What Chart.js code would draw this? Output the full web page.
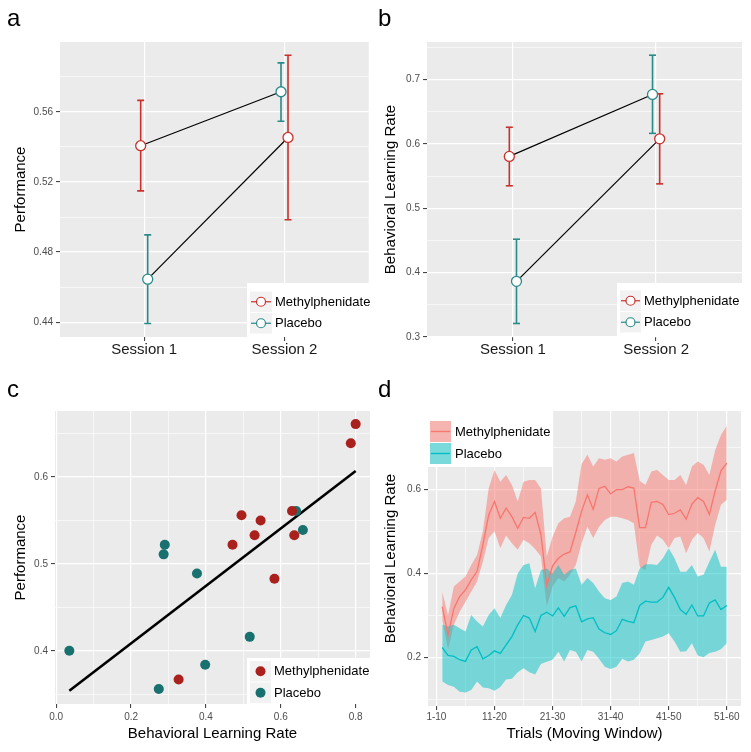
<!DOCTYPE html>
<html><head><meta charset="utf-8">
<script src="https://cdn.jsdelivr.net/npm/chart.js@4.4.0/dist/chart.umd.min.js"></script>
<style>
html,body{margin:0;padding:0;background:#fff;}
#wrap{position:relative;width:751px;height:752px;overflow:hidden;font-family:"Liberation Sans",Arial,sans-serif;}
.pane{position:absolute;}
.pane canvas{display:block;}
.lab{position:absolute;font-size:24px;line-height:24px;color:#000;font-family:"Liberation Sans",Arial,sans-serif;}
</style></head><body>
<div id="wrap">
  <div class="pane" style="left:0;top:0;"><canvas id="ca" width="375" height="376"></canvas></div>
  <div class="pane" style="left:375px;top:0;"><canvas id="cb" width="376" height="376"></canvas></div>
  <div class="pane" style="left:0;top:376px;"><canvas id="cc" width="375" height="376"></canvas></div>
  <div class="pane" style="left:375px;top:376px;"><canvas id="cd" width="376" height="376"></canvas></div>
  <div class="lab" style="left:7px;top:6px;">a</div>
  <div class="lab" style="left:378px;top:6px;">b</div>
  <div class="lab" style="left:7px;top:377px;">c</div>
  <div class="lab" style="left:378px;top:377px;">d</div>
</div>
<script>
// ================= DATA =================
const sessions = ['Session 1', 'Session 2'];
const groups = ['Methylphenidate', 'Placebo'];

// Panel a: Performance (mean, lower, upper) per session
const perfMph   = [0.5407, 0.5454];
const perfMphLo = [0.5149, 0.4984];
const perfMphHi = [0.5666, 0.5923];
const perfPla   = [0.4645, 0.5715];
const perfPlaLo = [0.4392, 0.5547];
const perfPlaHi = [0.4898, 0.5880];
const perfTicks = [0.44, 0.48, 0.52, 0.56];

// Panel b: Behavioral learning rate per session
const lrMph   = [0.5807, 0.6080];
const lrMphLo = [0.5350, 0.5380];
const lrMphHi = [0.6260, 0.6780];
const lrPla   = [0.3865, 0.6770];
const lrPlaLo = [0.3210, 0.6165];
const lrPlaHi = [0.4520, 0.7380];
const lrTicks = [0.3, 0.4, 0.5, 0.6, 0.7];

// Panel c: scatter of learning rate vs performance
const scMphLR   = [0.800, 0.787, 0.630, 0.495, 0.546, 0.530, 0.636, 0.471, 0.583, 0.327];
const scMphPerf = [0.661, 0.639, 0.561, 0.556, 0.550, 0.533, 0.533, 0.522, 0.483, 0.367];
const scPlaLR   = [0.641, 0.659, 0.290, 0.287, 0.376, 0.517, 0.035, 0.398, 0.274];
const scPlaPerf = [0.561, 0.539, 0.522, 0.511, 0.489, 0.416, 0.400, 0.384, 0.356];
const fitLR   = [0.035, 0.800];
const fitPerf = [0.354, 0.607];
const scXTicks = [0.0, 0.2, 0.4, 0.6, 0.8];
const scYTicks = [0.4, 0.5, 0.6];

// Panel d: moving-window learning rate (50 windows), mean and ribbon
const mwMph = [0.321,0.254,0.317,0.345,0.361,0.385,0.405,0.468,0.539,0.571,
               0.531,0.555,0.535,0.507,0.533,0.531,0.545,0.492,0.371,0.418,
               0.436,0.446,0.451,0.498,0.548,0.587,0.552,0.602,0.607,0.589,
               0.599,0.599,0.606,0.603,0.509,0.509,0.569,0.571,0.564,0.540,
               0.543,0.551,0.529,0.565,0.580,0.571,0.540,0.596,0.644,0.662];
const mwMphLo = [0.290,0.220,0.278,0.309,0.333,0.357,0.381,0.428,0.484,0.500,
                 0.460,0.490,0.472,0.456,0.480,0.472,0.458,0.440,0.322,0.369,
                 0.389,0.381,0.397,0.420,0.472,0.511,0.484,0.511,0.527,0.535,
                 0.535,0.531,0.527,0.519,0.415,0.408,0.468,0.490,0.480,0.460,
                 0.484,0.488,0.448,0.480,0.496,0.484,0.452,0.515,0.563,0.575];
const mwMphHi = [0.357,0.300,0.369,0.381,0.393,0.420,0.444,0.500,0.602,0.646,
                 0.618,0.634,0.610,0.571,0.618,0.622,0.622,0.602,0.440,0.487,
                 0.519,0.531,0.535,0.571,0.660,0.682,0.654,0.674,0.670,0.674,
                 0.666,0.678,0.682,0.686,0.620,0.610,0.642,0.646,0.634,0.622,
                 0.622,0.634,0.610,0.654,0.666,0.658,0.634,0.693,0.729,0.751];
const mwPla = [0.224,0.205,0.203,0.195,0.191,0.218,0.226,0.197,0.205,0.216,
               0.210,0.230,0.250,0.278,0.300,0.294,0.262,0.300,0.308,0.299,
               0.318,0.298,0.319,0.323,0.285,0.292,0.295,0.268,0.259,0.255,
               0.264,0.291,0.286,0.283,0.324,0.334,0.332,0.332,0.343,0.367,
               0.343,0.314,0.303,0.325,0.299,0.299,0.330,0.337,0.314,0.324];
const mwPlaLo = [0.143,0.135,0.131,0.119,0.117,0.123,0.143,0.129,0.127,0.121,
                 0.130,0.148,0.150,0.165,0.175,0.165,0.160,0.185,0.190,0.195,
                 0.214,0.191,0.218,0.214,0.191,0.218,0.214,0.197,0.178,0.173,
                 0.178,0.197,0.191,0.195,0.210,0.238,0.242,0.246,0.250,0.258,
                 0.238,0.214,0.215,0.234,0.205,0.201,0.211,0.214,0.220,0.234];
const mwPlaHi = [0.278,0.274,0.278,0.270,0.262,0.301,0.286,0.274,0.301,0.317,
                 0.294,0.325,0.349,0.400,0.420,0.424,0.365,0.408,0.412,0.400,
                 0.420,0.397,0.408,0.412,0.373,0.389,0.377,0.357,0.341,0.337,
                 0.345,0.377,0.381,0.373,0.412,0.422,0.422,0.420,0.436,0.460,
                 0.436,0.404,0.404,0.420,0.393,0.397,0.428,0.456,0.416,0.416];
const windowLabels = ['1-10', '11-20', '21-30', '31-40', '41-50', '51-60'];
const mwYTicks = [0.2, 0.4, 0.6];

// ================= HELPERS =================
const FONT = '"Liberation Sans", Arial, Helvetica, sans-serif';
Chart.defaults.font.family = FONT;
Chart.defaults.animation = false;

const isIn = (list, v) => list.some(m => Math.abs(m - v) < 1e-9);

function axis(cfg) {
  const all = cfg.major.concat(cfg.minor || []).sort((a, b) => a - b);
  return {
    type: 'linear', min: cfg.min, max: cfg.max, bounds: 'data',
    afterBuildTicks: s => { s.ticks = all.map(v => ({ value: v })); },
    afterFit: s => {
      if (cfg.horizontal) s.height = cfg.size; else s.width = cfg.size;
      s.paddingLeft = 0; s.paddingRight = 0; s.paddingTop = 0; s.paddingBottom = 0;
    },
    grid: {
      color: '#FFFFFF',
      lineWidth: c => (c.tick && isIn(cfg.major, c.tick.value)) ? 1.2 : 0.6,
      drawTicks: true, tickLength: 4, tickWidth: 1,
      tickColor: c => (c.tick && isIn(cfg.major, c.tick.value)) ? '#333333' : 'rgba(0,0,0,0)'
    },
    border: { display: false },
    ticks: {
      autoSkip: false, maxRotation: 0, minRotation: 0, padding: cfg.tickPad,
      color: cfg.tickColor || '#4D4D4D', font: { size: cfg.tickSize || 10 },
      callback: v => isIn(cfg.major, v) ? cfg.fmt(v) : ''
    },
    title: cfg.title ? { display: true, text: cfg.title, color: '#000000', font: { size: 15 }, padding: cfg.titlePad }
                     : { display: false }
  };
}

const bgPlugin = {
  id: 'panelBg',
  beforeDraw(chart) {
    const { ctx, chartArea: a } = chart;
    ctx.save();
    ctx.fillStyle = '#EBEBEB';
    ctx.fillRect(a.left, a.top, a.right - a.left, a.bottom - a.top);
    ctx.restore();
  }
};

const legendPlugin = {
  id: 'panelLegend',
  afterDraw(chart, args, o) {
    if (!o || !o.items) return;
    const ctx = chart.ctx;
    const [bx, by, bw, bh] = o.box;
    ctx.save();
    ctx.fillStyle = '#FFFFFF';
    ctx.fillRect(bx, by, bw, bh);
    for (let i = 0; i < o.items.length; i++) {
      const it = o.items[i];
      const kx = o.kx, ky = o.ky + i * o.kh, kw = o.kw, kh = o.kh - 1;
      ctx.fillStyle = '#F2F2F2';
      ctx.fillRect(kx, ky, kw, kh);
      const cx = kx + kw / 2, cy = ky + kh / 2;
      if (o.kind === 'pointline') {
        ctx.strokeStyle = it.color; ctx.lineWidth = 1.2;
        ctx.beginPath(); ctx.moveTo(kx + 1, cy); ctx.lineTo(kx + kw - 1, cy); ctx.stroke();
        ctx.fillStyle = '#FFFFFF';
        ctx.beginPath(); ctx.arc(cx, cy, 4.5, 0, Math.PI * 2); ctx.fill(); ctx.stroke();
      } else if (o.kind === 'dot') {
        ctx.fillStyle = it.color;
        ctx.beginPath(); ctx.arc(cx, cy, 5, 0, Math.PI * 2); ctx.fill();
      } else if (o.kind === 'ribbon') {
        ctx.fillStyle = it.fill;
        ctx.fillRect(kx, ky, kw, kh);
        ctx.strokeStyle = it.color; ctx.lineWidth = 1.3;
        ctx.beginPath(); ctx.moveTo(kx + 1, cy); ctx.lineTo(kx + kw - 1, cy); ctx.stroke();
      }
      ctx.fillStyle = '#000000';
      ctx.font = '13px ' + FONT;
      ctx.textBaseline = 'middle';
      ctx.textAlign = 'left';
      ctx.fillText(it.label, o.tx, cy + 0.5);
    }
    ctx.restore();
  }
};

// ================= PANELS a & b =================
const RED_AB = '#C8312C', TEAL_AB = '#2B8A8A';
const DODGE = 0.025;

function sessionPanel(id, d, geom) {
  // group 0: methylphenidate in session 1 then placebo in session 2; group 1: the reverse
  const mphGroup = [0, 1], plaGroup = [1, 0];
  const px = (k, g) => k + 1 + (g === 0 ? -DODGE : DODGE);
  const ds = [];
  ds.push({ data: sessions.map((s, k) => ({ x: px(k, mphGroup[k]), y: d.mph[k] })), showLine: false,
            pointRadius: 5, pointBackgroundColor: '#FFFFFF', pointBorderColor: RED_AB, pointBorderWidth: 1.3 });
  ds.push({ data: sessions.map((s, k) => ({ x: px(k, plaGroup[k]), y: d.pla[k] })), showLine: false,
            pointRadius: 5, pointBackgroundColor: '#FFFFFF', pointBorderColor: TEAL_AB, pointBorderWidth: 1.3 });
  ds.push({ data: [{ x: px(0, 0), y: d.mph[0] }, { x: px(1, 0), y: d.pla[1] }], borderColor: '#000', borderWidth: 1.2, pointRadius: 0 });
  ds.push({ data: [{ x: px(0, 1), y: d.pla[0] }, { x: px(1, 1), y: d.mph[1] }], borderColor: '#000', borderWidth: 1.2, pointRadius: 0 });
  sessions.forEach((s, k) => {
    ds.push({ data: [{ x: px(k, mphGroup[k]), y: d.mphLo[k] }, { x: px(k, mphGroup[k]), y: d.mphHi[k] }],
              borderColor: RED_AB, borderWidth: 1.6, pointStyle: 'line', pointRadius: 3.5, pointBorderColor: RED_AB, pointBorderWidth: 1.6 });
    ds.push({ data: [{ x: px(k, plaGroup[k]), y: d.plaLo[k] }, { x: px(k, plaGroup[k]), y: d.plaHi[k] }],
              borderColor: TEAL_AB, borderWidth: 1.6, pointStyle: 'line', pointRadius: 3.5, pointBorderColor: TEAL_AB, pointBorderWidth: 1.6 });
  });
  new Chart(document.getElementById(id), {
    type: 'line',
    data: { datasets: ds },
    options: {
      responsive: false, devicePixelRatio: 1, animation: false,
      layout: { padding: { left: 0, top: geom.top, right: geom.right, bottom: 0 } },
      plugins: {
        legend: { display: false }, tooltip: { enabled: false },
        panelLegend: {
          kind: 'pointline', box: geom.legBox, kx: geom.kx, ky: geom.ky, kw: geom.kw, kh: 21.5, tx: geom.tx,
          items: [{ label: groups[0], color: RED_AB }, { label: groups[1], color: TEAL_AB }]
        }
      },
      scales: {
        x: axis({ min: 0.4, max: 2.6, major: [1, 2], horizontal: true, size: geom.xh, tickPad: 0,
                  tickSize: 15, tickColor: '#1A1A1A', fmt: v => sessions[Math.round(v) - 1] }),
        y: axis({ min: d.yMin, max: d.yMax, major: d.major, minor: d.minor, size: geom.yw, tickPad: 3,
                  fmt: d.fmt, title: d.title, titlePad: { top: geom.titleTop, bottom: 0 } })
      }
    },
    plugins: [bgPlugin, legendPlugin]
  });
}

sessionPanel('ca', {
  mph: perfMph, mphLo: perfMphLo, mphHi: perfMphHi, pla: perfPla, plaLo: perfPlaLo, plaHi: perfPlaHi,
  yMin: 0.4315, yMax: 0.5999, major: perfTicks, minor: [0.46, 0.50, 0.54, 0.58],
  fmt: v => v.toFixed(2), title: 'Performance'
}, { top: 42, right: 4, yw: 60, xh: 39, titleTop: 12, legBox: [247, 283, 124, 54], kx: 250, ky: 291.5, kw: 22, tx: 275 });

sessionPanel('cb', {
  mph: lrMph, mphLo: lrMphLo, mphHi: lrMphHi, pla: lrPla, plaLo: lrPlaLo, plaHi: lrPlaHi,
  yMin: 0.3, yMax: 0.7585, major: lrTicks, minor: [0.35, 0.45, 0.55, 0.65, 0.75],
  fmt: v => v.toFixed(1), title: 'Behavioral Learning Rate'
}, { top: 42, right: 9, yw: 52, xh: 39, titleTop: 7, legBox: [242, 283, 125, 54], kx: 245, ky: 290.5, kw: 21, tx: 269 });

// ================= PANEL c =================
const RED_C = '#A9201C', TEAL_C = '#18706F';
new Chart(document.getElementById('cc'), {
  type: 'line',
  data: {
    datasets: [
      { data: scMphLR.map((v, i) => ({ x: v, y: scMphPerf[i] })), showLine: false, pointRadius: 5,
        pointBackgroundColor: RED_C, pointBorderWidth: 0, pointBorderColor: RED_C },
      { data: scPlaLR.map((v, i) => ({ x: v, y: scPlaPerf[i] })), showLine: false, pointRadius: 5,
        pointBackgroundColor: TEAL_C, pointBorderWidth: 0, pointBorderColor: TEAL_C },
      { data: fitLR.map((v, i) => ({ x: v, y: fitPerf[i] })), borderColor: '#000', borderWidth: 2.6, pointRadius: 0 }
    ]
  },
  options: {
    responsive: false, devicePixelRatio: 1, animation: false,
    layout: { padding: { left: 0, top: 35, right: 4, bottom: 0 } },
    plugins: {
      legend: { display: false }, tooltip: { enabled: false },
      panelLegend: {
        kind: 'dot', box: [247, 282, 124, 46], kx: 250, ky: 285, kw: 21, kh: 21.5, tx: 274,
        items: [{ label: groups[0], color: RED_C }, { label: groups[1], color: TEAL_C }]
      }
    },
    scales: {
      x: axis({ min: -0.0033, max: 0.8383, major: scXTicks, minor: [0.1, 0.3, 0.5, 0.7], horizontal: true, size: 48,
                tickPad: 3.5, fmt: v => v.toFixed(1), title: 'Behavioral Learning Rate', titlePad: { top: 0, bottom: 9 } }),
      y: axis({ min: 0.3387, max: 0.6761, major: scYTicks, minor: [0.35, 0.45, 0.55, 0.65], size: 55, tickPad: 3,
                fmt: v => v.toFixed(1), title: 'Performance', titlePad: { top: 12, bottom: 0 } })
    }
  },
  plugins: [bgPlugin, legendPlugin]
});

// ================= PANEL d =================
const RED_D = '#F8766D', TEAL_D = '#00BFC4';
const RED_D_FILL = 'rgba(248,118,109,0.5)', TEAL_D_FILL = 'rgba(0,191,196,0.5)';
const toPts = arr => arr.map((v, i) => ({ x: i + 1, y: v }));
new Chart(document.getElementById('cd'), {
  type: 'line',
  data: {
    datasets: [
      { data: toPts(mwMph), borderColor: RED_D, borderWidth: 1.3, pointRadius: 0, fill: false },
      { data: toPts(mwPla), borderColor: TEAL_D, borderWidth: 1.3, pointRadius: 0, fill: false },
      { data: toPts(mwPlaLo), borderWidth: 0, borderColor: 'rgba(0,0,0,0)', pointRadius: 0, fill: false },
      { data: toPts(mwPlaHi), borderWidth: 0, borderColor: 'rgba(0,0,0,0)', pointRadius: 0, fill: '-1', backgroundColor: TEAL_D_FILL },
      { data: toPts(mwMphLo), borderWidth: 0, borderColor: 'rgba(0,0,0,0)', pointRadius: 0, fill: false },
      { data: toPts(mwMphHi), borderWidth: 0, borderColor: 'rgba(0,0,0,0)', pointRadius: 0, fill: '-1', backgroundColor: RED_D_FILL }
    ]
  },
  options: {
    responsive: false, devicePixelRatio: 1, animation: false,
    layout: { padding: { left: 0, top: 35, right: 10, bottom: 0 } },
    plugins: {
      legend: { display: false }, tooltip: { enabled: false },
      filler: { drawTime: 'beforeDatasetsDraw', propagate: false },
      panelLegend: {
        kind: 'ribbon', box: [53, 35, 124, 56], kx: 55, ky: 45, kw: 21, kh: 22, tx: 80,
        items: [{ label: groups[0], color: RED_D, fill: RED_D_FILL }, { label: groups[1], color: TEAL_D, fill: TEAL_D_FILL }]
      }
    },
    scales: {
      x: axis({ min: -1.45, max: 52.45, major: [0, 10, 20, 30, 40, 50], minor: [5, 15, 25, 35, 45], horizontal: true, size: 46,
                tickPad: 1.7, fmt: v => windowLabels[Math.round(v / 10)], title: 'Trials (Moving Window)', titlePad: { top: 0, bottom: 9 } }),
      y: axis({ min: 0.085, max: 0.786, major: mwYTicks, minor: [0.1, 0.3, 0.5, 0.7], size: 53, tickPad: 3,
                fmt: v => v.toFixed(1), title: 'Behavioral Learning Rate', titlePad: { top: 7, bottom: 0 } })
    }
  },
  plugins: [bgPlugin, legendPlugin]
});
</script>
</body></html>
